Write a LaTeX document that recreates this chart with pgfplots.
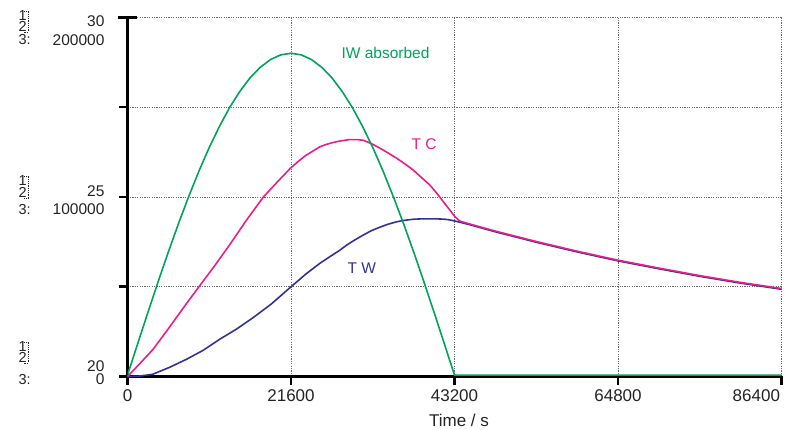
\documentclass[border=0pt]{standalone}
\usepackage{pgfplots}
\pgfplotsset{compat=1.18}
\usepackage{pgfplotstable}
\usepackage{fontspec}
\setmainfont{Liberation Sans}
\definecolor{cgreen}{RGB}{0,163,89}
\definecolor{cpink}{RGB}{233,30,140}
\definecolor{cblue}{RGB}{50,50,150}
\definecolor{cgrid}{RGB}{105,105,105}
\definecolor{ctext}{RGB}{35,35,35}
\newcommand{\fa}{\fontsize{17}{17}\selectfont}
\newcommand{\fb}{\fontsize{15.5}{15.5}\selectfont}
\newcommand{\fc}{\fontsize{15.5}{15.5}\selectfont}
\newcommand{\fd}{\fontsize{14.5}{14.5}\selectfont}

\pgfplotstableread{
t T
0 20.00
1500 20.01
3300 20.06
5500 20.25
7800 20.48
10000 20.73
12200 21.04
14400 21.32
16600 21.64
19000 22.02
21500 22.48
23600 22.86
25400 23.15
26750 23.34
28070 23.52
28950 23.66
30000 23.80
31150 23.94
32200 24.06
33350 24.16
34400 24.24
35560 24.31
36600 24.35
37750 24.38
38800 24.39
39960 24.39
41000 24.39
41940 24.38
42600 24.36
43260 24.33
45000 24.24
48600 24.03
54000 23.74
59400 23.47
64800 23.22
70200 23.00
75600 22.79
81000 22.60
86400 22.43
}\tw

\pgfplotstableread{
t T
0 20.00
1500 20.33
3350 20.75
5500 21.36
7820 22.04
9440 22.50
11500 23.08
13540 23.68
15700 24.35
17950 25.00
19800 25.42
21510 25.80
22500 25.98
23500 26.15
24500 26.28
25430 26.40
26200 26.46
27000 26.51
28070 26.56
29390 26.60
30300 26.60
31150 26.58
32200 26.49
33350 26.36
34400 26.23
35560 26.08
36600 25.93
37750 25.75
38800 25.55
39960 25.33
40800 25.12
41720 24.87
42500 24.66
43260 24.45
43900 24.33
45000 24.26
48600 24.05
54000 23.76
59400 23.49
64800 23.24
70200 23.02
75600 22.81
81000 22.62
86400 22.45
}\tc

\pgfplotstableread{
t IW
0 0
1350 17600
2700 35100
4050 52300
5400 68900
6750 84900
8100 100000
9450 114200
10800 127300
12150 139100
13500 149700
14850 158700
16200 166300
17550 172200
18900 176500
20250 179100
21600 180000
22950 179100
24300 176500
25650 172200
27000 166300
28350 158700
29700 149700
31050 139100
32400 127300
33750 114200
35100 100000
36450 84900
37800 68900
39150 52300
40500 35100
41850 17600
43200 0
86400 0
}\iw

\begin{document}
\begin{tikzpicture}
\path[use as bounding box] (0pt,0pt) rectangle (785pt,430pt);
\begin{axis}[
  at={(127.5pt,53.5pt)}, anchor=south west,
  scale only axis, width=654pt, height=359pt,
  xmin=0, xmax=86400, ymin=20, ymax=30,
  axis lines=left,
  axis line style={line width=3pt, black, -},
  xtick={0,21600,43200,64800,86400},
  ytick={20,22.5,25,27.5,30},
  xticklabels={}, yticklabels={},
  scaled x ticks=false, scaled y ticks=false,
  extra y ticks={30}, extra y tick labels={},
  extra y tick style={tick align=center, major tick length=19pt},
  tick align=outside,
  major tick length=8.5pt,
  tick style={black, line width=2.5pt},
  grid=major,
  major grid style={cgrid, line width=0.9pt, dash pattern=on 1.2pt off 1.2pt},
  clip=false,
]
\addplot[cblue, line width=1.6pt] table[x=t, y=T] {\tw};
\addplot[cpink, line width=1.6pt] table[x=t, y=T] {\tc};

\node[anchor=base, font=\fa, text=ctext, yshift=-25.5pt] at (axis cs:0,20) {0};
\node[anchor=base, font=\fa, text=ctext, yshift=-25.5pt] at (axis cs:21600,20) {21600};
\node[anchor=base, font=\fa, text=ctext, yshift=-25.5pt] at (axis cs:43200,20) {43200};
\node[anchor=base, font=\fa, text=ctext, yshift=-25.5pt] at (axis cs:64800,20) {64800};
\node[anchor=base east, font=\fa, text=ctext, yshift=-25.5pt, xshift=2pt] at (axis cs:86400,20) {86400};
\node[anchor=base, font=\fa, text=ctext, yshift=-50.5pt] at (axis cs:43790,20) {Time / s};

\node[anchor=base west, font=\fc, text=cgreen] at (axis cs:27810,28.87) {IW absorbed};
\node[anchor=base west, font=\fc, text=cpink] at (axis cs:37060,26.31) {T C};
\node[anchor=base west, font=\fc, text=cblue] at (axis cs:28600,22.86) {T W};
\end{axis}

\begin{axis}[
  at={(127.5pt,53.5pt)}, anchor=south west,
  scale only axis, width=654pt, height=359pt,
  xmin=0, xmax=86400, ymin=-800, ymax=200000,
  axis lines=none, ticks=none,
]
\addplot[cgreen, line width=1.6pt] table[x=t, y=IW] {\iw};
\end{axis}

% left scale labels
\begin{scope}[text=ctext]
\node[anchor=base west, font=\fd] at (15pt,409pt) {1};
\node[anchor=base west, font=\fd] at (15pt,398pt) {2};
\node[anchor=base west, font=\fd] at (15pt,385pt) {3:};
\node[anchor=base east, font=\fb] at (108pt,403pt) {30};
\node[anchor=base east, font=\fb] at (108pt,384pt) {200000};

\node[anchor=base west, font=\fd] at (15pt,244pt) {1};
\node[anchor=base west, font=\fd] at (15pt,232pt) {2};
\node[anchor=base west, font=\fd] at (15pt,215pt) {3:};
\node[anchor=base east, font=\fb] at (108pt,233pt) {25};
\node[anchor=base east, font=\fb] at (108pt,215pt) {100000};

\node[anchor=base west, font=\fd] at (15pt,78pt) {1};
\node[anchor=base west, font=\fd] at (15pt,67pt) {2};
\node[anchor=base west, font=\fd] at (15pt,45pt) {3:};
\node[anchor=base east, font=\fb] at (108pt,58pt) {20};
\node[anchor=base east, font=\fb] at (108pt,45pt) {0};
\end{scope}
\draw[ctext, line width=0.9pt, dash pattern=on 1pt off 0.8pt] (24pt,419pt) -- (28pt,419pt) -- (28pt,398pt) -- (24pt,398pt);
\draw[ctext, line width=0.9pt, dash pattern=on 1pt off 0.8pt] (24pt,254pt) -- (28pt,254pt) -- (28pt,232pt) -- (24pt,232pt);
\draw[ctext, line width=0.9pt, dash pattern=on 1pt off 0.8pt] (24pt,88pt) -- (28pt,88pt) -- (28pt,67pt) -- (24pt,67pt);
\end{tikzpicture}
\end{document}
